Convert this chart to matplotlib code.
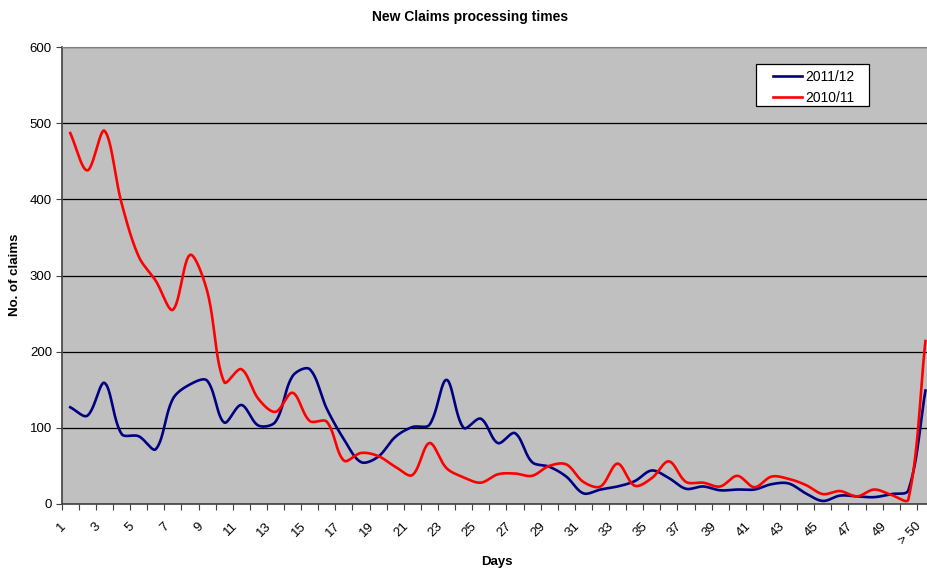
import numpy as np
import matplotlib
matplotlib.use('Agg')
import matplotlib.pyplot as plt
from matplotlib.ticker import FixedLocator, NullFormatter
from matplotlib.transforms import ScaledTranslation
from matplotlib.patches import Rectangle

plt.rcParams['font.family'] = ['Liberation Sans', 'DejaVu Sans']

# categories: days 1..50 and "> 50"
days = [str(d) for d in range(1, 51)] + ['> 50']

claims_1112 = [127, 116, 159, 92, 89, 72, 138, 157, 162, 107,
               130, 103, 108, 168, 177, 125, 85, 55, 62, 88,
               101, 104, 163, 100, 112, 80, 93, 55, 49, 36,
               14, 19, 23, 30, 44, 34, 20, 23, 18, 19,
               19, 26, 27, 14, 4, 11, 10, 9, 13, 18,
               149]

claims_1011 = [487, 438, 490, 395, 325, 293, 255, 327, 280, 160,
               177, 138, 121, 146, 109, 108, 57, 67, 63, 49,
               38, 80, 47, 35, 28, 39, 40, 37, 50, 52,
               29, 23, 53, 24, 34, 56, 29, 28, 23, 37,
               22, 36, 33, 25, 13, 17, 10, 19, 12, 6,
               214]

# pixel scale of the plot, used to smooth like Excel does (in screen space)
PX_X = 17.1
PX_Y = 457 / 600


def smooth(y, n=24):
    y = np.asarray(y, dtype=float)
    P = np.column_stack([np.arange(len(y)) * PX_X, y * PX_Y])
    N = len(P)
    cin = np.zeros_like(P)
    cout = np.zeros_like(P)
    for i in range(N):
        if i == 0:
            cout[i] = P[0] + (P[1] - P[0]) / 3
            continue
        if i == N - 1:
            cin[i] = P[i] - (P[i] - P[i - 1]) / 3
            continue
        dp = np.hypot(*(P[i] - P[i - 1]))
        dn = np.hypot(*(P[i + 1] - P[i]))
        T = P[i + 1] - P[i - 1]
        cin[i] = P[i] - T * dp / (dp + dn) / 3
        cout[i] = P[i] + T * dn / (dp + dn) / 3
    t = np.linspace(0, 1, n, endpoint=False)[:, None]
    pts = []
    for i in range(N - 1):
        b = ((1 - t) ** 3 * P[i] + 3 * (1 - t) ** 2 * t * cout[i] +
             3 * (1 - t) * t ** 2 * cin[i + 1] + t ** 3 * P[i + 1])
        pts.append(b)
    pts.append(P[-1:])
    pts = np.vstack(pts)
    return pts[:, 0] / PX_X, pts[:, 1] / PX_Y


fig = plt.figure(figsize=(9.28, 5.72), dpi=100)
ax = fig.add_axes([61.7 / 928, 1 - 504 / 572, (934 - 61.7) / 928, (504 - 47) / 572])
ax.set_facecolor('#C0C0C0')

xb, yb = smooth(claims_1112)
xr, yr = smooth(claims_1011)
ax.plot(xb, yb, color='#000080', lw=1.9, label='2011/12', zorder=3)
ax.plot(xr, yr, color='#FF0000', lw=1.9, label='2010/11', zorder=3)

ax.set_xlim(-0.5, len(days) - 0.5)
ax.set_ylim(0, 600)
ax.set_yticks(range(0, 601, 100))
ax.yaxis.grid(True, color='black', lw=0.9)
ax.set_axisbelow(True)

# x tick marks between categories, labels on every other category
ax.xaxis.set_major_locator(FixedLocator(np.arange(-0.5, len(days), 1.0)))
ax.xaxis.set_major_formatter(NullFormatter())
ax.tick_params(axis='x', length=4, width=0.8, color='#404040')
ax.tick_params(axis='y', length=4, width=0.8, color='#404040', labelsize=9.5, pad=3)
shift = ScaledTranslation(-10 / 100, -16 / 100, fig.dpi_scale_trans)
for i in range(0, len(days), 2):
    ax.text(i, 0, days[i], transform=ax.get_xaxis_transform() + shift,
            rotation=45, ha='right', va='top', rotation_mode='anchor', fontsize=9.5)

for s in ['left', 'bottom']:
    ax.spines[s].set_color('#404040')
    ax.spines[s].set_linewidth(1.2)
ax.spines['top'].set_color('#808080')
ax.spines['right'].set_visible(False)

fig.text(497 / 928, 1 - 562 / 572, 'Days', ha='center', va='center',
         fontsize=9.5, fontweight='bold')
fig.text(15 / 928, 1 - 275 / 572, 'No. of claims', ha='center', va='center',
         rotation=90, fontsize=9.5, fontweight='bold')
fig.text(470 / 928, 1 - 17 / 572, 'New Claims processing times', ha='center', va='center',
         fontsize=10, fontweight='bold')

# legend: box drawn separately so its padding matches the Excel one
box = Rectangle((756 / 928, 1 - 106 / 572), 113 / 928, 42 / 572, transform=fig.transFigure,
                facecolor='white', edgecolor='black', lw=0.9, zorder=4)
fig.patches.append(box)
leg = fig.legend(loc='upper left', bbox_to_anchor=(773 / 928, 1 - 70 / 572),
                 fontsize=10, frameon=False, handlelength=2.1,
                 borderpad=0, borderaxespad=0, labelspacing=0.5, handletextpad=0.2)
leg.set_zorder(5)

fig.savefig('out.png', dpi=100)
